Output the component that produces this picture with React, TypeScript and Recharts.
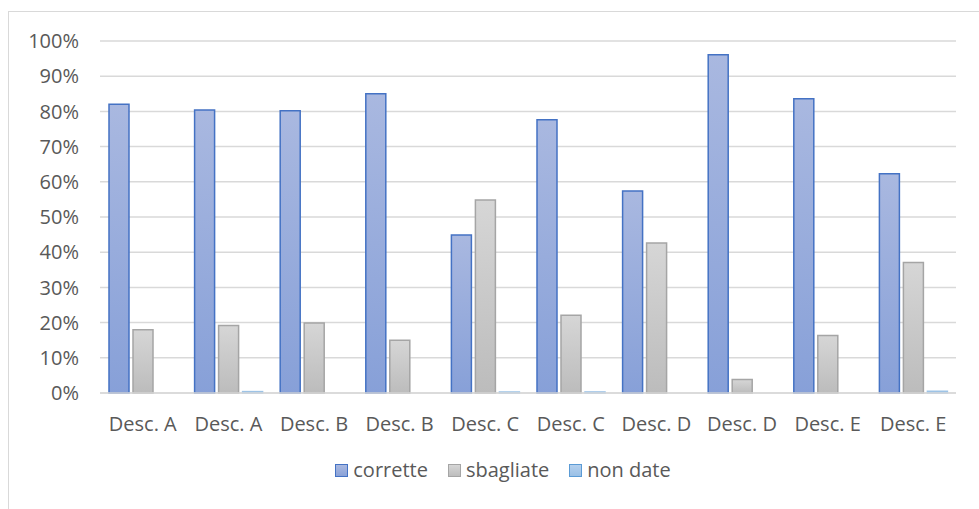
import React from 'react';
import { BarChart, Bar, XAxis, YAxis, CartesianGrid } from 'recharts';

const categories = [
    'Desc. A', 'Desc. A', 'Desc. B', 'Desc. B', 'Desc. C',
    'Desc. C', 'Desc. D', 'Desc. D', 'Desc. E', 'Desc. E',
];
const corrette = [82, 80.4, 80.2, 85, 44.9, 77.6, 57.4, 96.1, 83.6, 62.3];
const sbagliate = [18, 19.2, 19.9, 15, 54.8, 22.1, 42.6, 3.8, 16.3, 37.1];
const nonDate = [0, 0.4, 0, 0, 0.3, 0.3, 0, 0, 0, 0.5];
const yTicks = [0, 10, 20, 30, 40, 50, 60, 70, 80, 90, 100];

const data = categories.map((name, i) => ({
    name,
    corrette: corrette[i],
    sbagliate: sbagliate[i],
    nonDate: nonDate[i],
}));

const FONT = '"Open Sans", sans-serif';
const TEXT = '#595959';

const legendItems = [
    { label: 'corrette', top: '#a9b8e0', bottom: '#8aa2d8', stroke: '#4472c4' },
    { label: 'sbagliate', top: '#d6d6d6', bottom: '#bdbdbd', stroke: '#a5a5a5' },
    { label: 'non date', top: '#b4d0ee', bottom: '#9ac0e6', stroke: '#5b9bd5' },
];

// legend drawn outside the chart so it doesn't eat into the plot area
const ChartLegend = () => (
    <div
        style={{
            position: 'absolute',
            left: 0,
            top: 456,
            width: 1006,
            display: 'flex',
            justifyContent: 'center',
            gap: 20,
            fontFamily: FONT,
            fontSize: 20,
            color: TEXT,
            lineHeight: '28px',
        }}
    >
        {legendItems.map((it) => (
            <div key={it.label} style={{ display: 'flex', alignItems: 'center' }}>
                <span
                    style={{
                        display: 'inline-block',
                        width: 11,
                        height: 11,
                        marginRight: 5,
                        border: `1.5px solid ${it.stroke}`,
                        background: `linear-gradient(${it.top}, ${it.bottom})`,
                    }}
                />
                {it.label}
            </div>
        ))}
    </div>
);

const App: React.FC = () => {
    return (
        <div style={{ position: 'absolute', left: 0, top: 0, width: 979, height: 509, background: '#fff', overflow: 'hidden' }}>
            <div
                style={{
                    position: 'absolute',
                    left: 8,
                    top: 11,
                    width: 980,
                    height: 520,
                    borderTop: '1.5px solid #d9d9d9',
                    borderLeft: '1.5px solid #d9d9d9',
                }}
            />
            <BarChart
                width={979}
                height={509}
                data={data}
                margin={{ top: 41, right: 23, left: 20, bottom: 86 }}
                barGap={4}
                barSize={20}
                style={{ position: 'absolute', left: 0, top: 0 }}
            >
                <defs>
                    <linearGradient id="gBlue" x1="0" y1="0" x2="0" y2="1">
                        <stop offset="0%" stopColor="#a9b8e0" />
                        <stop offset="100%" stopColor="#87a0d8" />
                    </linearGradient>
                    <linearGradient id="gGray" x1="0" y1="0" x2="0" y2="1">
                        <stop offset="0%" stopColor="#d6d6d6" />
                        <stop offset="100%" stopColor="#bcbcbc" />
                    </linearGradient>
                    <linearGradient id="gLight" x1="0" y1="0" x2="0" y2="1">
                        <stop offset="0%" stopColor="#b4d0ee" />
                        <stop offset="100%" stopColor="#9ac0e6" />
                    </linearGradient>
                </defs>
                <CartesianGrid vertical={false} stroke="#d9d9d9" strokeWidth={1.5} />
                <XAxis
                    dataKey="name"
                    axisLine={{ stroke: '#d9d9d9', strokeWidth: 1.5 }}
                    tickLine={false}
                    tickMargin={18}
                    interval={0}
                    tick={{ fill: TEXT, fontSize: 20, fontFamily: FONT }}
                />
                <YAxis
                    width={80}
                    domain={[0, 100]}
                    ticks={yTicks}
                    axisLine={false}
                    tickLine={false}
                    tickMargin={15}
                    tickFormatter={(v: number) => `${v}%`}
                    tick={{ fill: TEXT, fontSize: 20, fontFamily: FONT }}
                />
                <Bar dataKey="corrette" fill="url(#gBlue)" stroke="#4472c4" strokeWidth={1.5} isAnimationActive={false} />
                <Bar dataKey="sbagliate" fill="url(#gGray)" stroke="#a5a5a5" strokeWidth={1.5} isAnimationActive={false} />
                <Bar dataKey="nonDate" fill="url(#gLight)" stroke="#9dc3e6" strokeWidth={1.5} isAnimationActive={false} />
            </BarChart>
            <ChartLegend />
        </div>
    );
};

export default App;
